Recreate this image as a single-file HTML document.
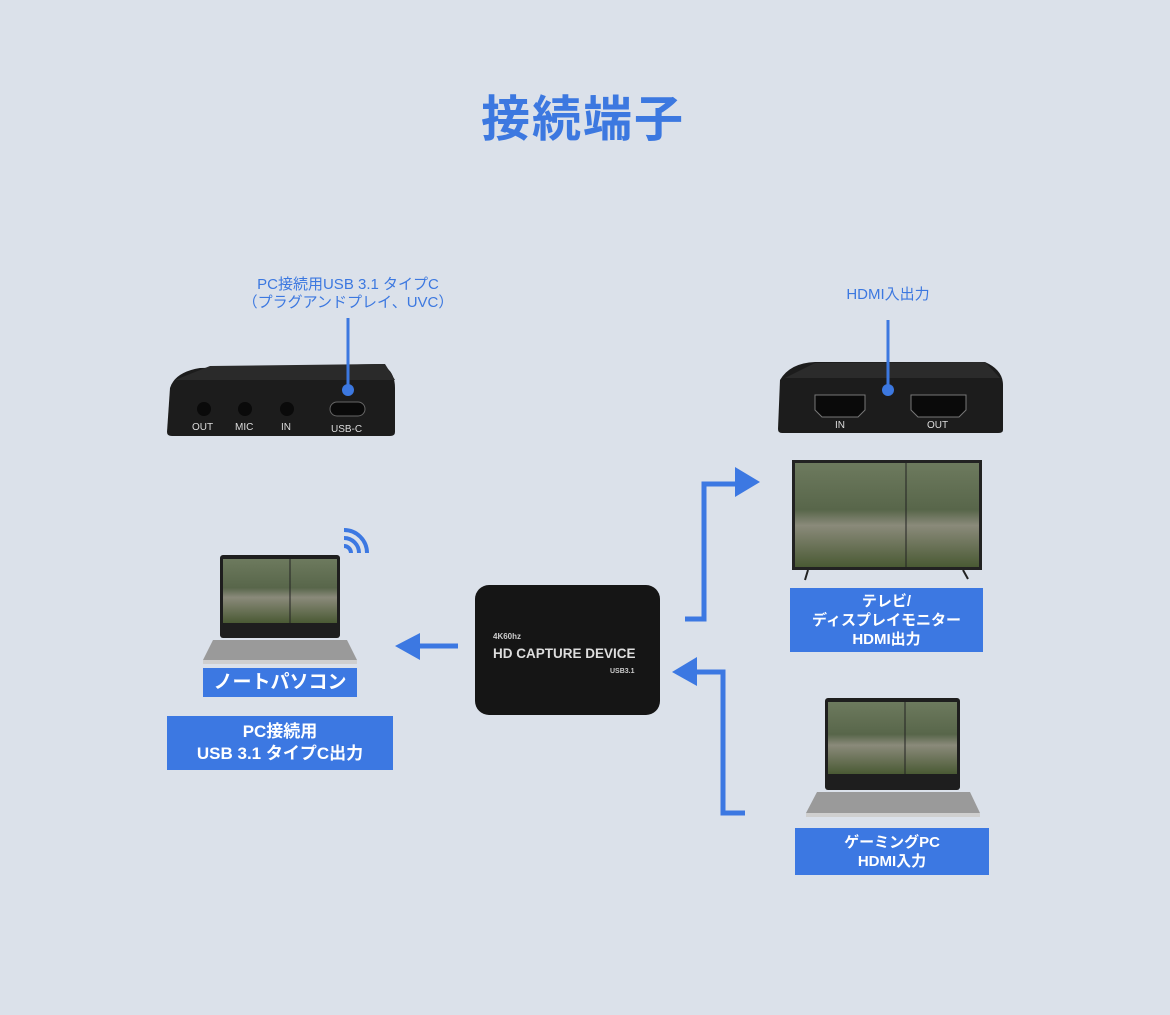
<!DOCTYPE html>
<html><head><meta charset="utf-8"><style>
body{margin:0;width:1170px;height:1015px;background:#dbe1ea;position:relative;overflow:hidden;font-family:"Liberation Sans","Noto Sans CJK JP",sans-serif}
.t{position:absolute;text-align:center;font-weight:bold}
.box{position:absolute;background:#3c78e2;color:#fff;font-weight:bold;text-align:center;display:flex;align-items:center;justify-content:center;font-size:16px;line-height:20px}
.scr{fill:url(#g)}
</style></head><body>
<div class="t" style="left:0;width:1170px;top:80px;font-size:49px;color:#3c78e0;letter-spacing:2px;left:-2px">接続端子</div>
<div class="t" style="left:200px;width:296px;top:276px;font-size:15px;line-height:18px;color:#3c78e0;font-weight:normal">PC接続用USB 3.1 タイプC<br>（プラグアンドプレイ、UVC）</div>
<div class="t" style="left:800px;width:176px;top:283px;font-size:15px;color:#3c78e0;font-weight:normal">HDMI入出力</div>
<svg width="1170" height="1015" style="position:absolute;left:0;top:0">
<defs>
<linearGradient id="g" x1="0" y1="0" x2="0" y2="1"><stop offset="0" stop-color="#6d7a5e"/><stop offset="0.45" stop-color="#58664a"/><stop offset="0.6" stop-color="#8a8a7a"/><stop offset="1" stop-color="#4a5a34"/></linearGradient>
</defs>
<path d="M170 388 Q175 372 200 368 L380 364 Q395 370 395 388 L395 432 Q395 436 390 436 L172 436 Q167 436 167 432 Z" fill="#1c1c1c"/>
<path d="M175 380 L210 366 L385 364 L395 380 Z" fill="#2a2a2a"/>
<g fill="#0a0a0a"><circle cx="204" cy="409" r="7"/><circle cx="245" cy="409" r="7"/><circle cx="287" cy="409" r="7"/></g>
<rect x="330" y="402" width="35" height="14" rx="7" fill="#0a0a0a" stroke="#666" stroke-width="1"/>
<g fill="#ddd" font-size="10" font-family="Liberation Sans"><text x="192" y="430">OUT</text><text x="235" y="430">MIC</text><text x="281" y="430">IN</text><text x="331" y="432">USB-C</text></g>
<line x1="348" y1="318" x2="348" y2="390" stroke="#3c78e0" stroke-width="3"/><circle cx="348" cy="390" r="6" fill="#3c78e0"/>
<path d="M780 380 Q790 363 815 362 L985 362 Q1003 370 1003 385 L1003 430 Q1003 433 998 433 L782 433 Q778 433 778 429 Z" fill="#1c1c1c"/>
<path d="M785 378 L815 363 L985 362 L1000 378 Z" fill="#2b2b2b"/>
<path d="M815 395 L865 395 L865 410 L858 417 L822 417 L815 410 Z" fill="#0a0a0a" stroke="#777"/>
<path d="M911 395 L966 395 L966 410 L959 417 L918 417 L911 410 Z" fill="#0a0a0a" stroke="#777"/>
<g fill="#ddd" font-size="10" font-family="Liberation Sans"><text x="835" y="428">IN</text><text x="927" y="428">OUT</text></g>
<line x1="888" y1="320" x2="888" y2="388" stroke="#3c78e0" stroke-width="3"/><circle cx="888" cy="390" r="6" fill="#3c78e0"/>
<rect x="792" y="460" width="190" height="110" fill="#222"/>
<rect x="795" y="463" width="184" height="104" class="scr"/>
<line x1="906" y1="463" x2="906" y2="567" stroke="#222"/>
<path d="M808 570 L805 580 M963 570 L968 579" stroke="#222" stroke-width="2"/>
<path d="M685 619 L704 619 L704 484 L738 484" fill="none" stroke="#3c78e2" stroke-width="5"/>
<polygon points="735,467 760,482 735,497" fill="#3c78e2"/>
<path d="M697 672 L723 672 L723 813 L745 813" fill="none" stroke="#3c78e2" stroke-width="5"/>
<polygon points="697,657 672,672 697,686" fill="#3c78e2"/>
<path d="M458 646 L418 646" stroke="#3c78e2" stroke-width="5"/>
<polygon points="420,633 395,646 420,660" fill="#3c78e2"/>
<rect x="475" y="585" width="185" height="130" rx="14" fill="#151515"/>
<text x="493" y="639" fill="#ccc" font-size="8" font-weight="bold" font-family="Liberation Sans">4K60hz</text>
<text x="493" y="658" fill="#ddd" font-size="13.5" font-weight="bold" font-family="Liberation Sans">HD CAPTURE DEVICE</text>
<text x="610" y="673" fill="#ccc" font-size="7" font-weight="bold" font-family="Liberation Sans">USB3.1</text>
<rect x="220" y="555" width="120" height="83" rx="3" fill="#1e1e1e"/>
<rect x="223" y="559" width="114" height="64" class="scr"/>
<line x1="290" y1="559" x2="290" y2="623" stroke="#222"/>
<path d="M213 640 L347 640 L357 660 L203 660 Z" fill="#9a9a9a"/>
<rect x="203" y="660" width="154" height="4" fill="#cfcfcf"/>
<g fill="none" stroke="#3c78e2" stroke-width="4">
<path d="M344 546 A7 7 0 0 1 351 553"/><path d="M344 538 A15 15 0 0 1 359 553"/><path d="M344 530 A23 23 0 0 1 367 553"/></g>
<rect x="825" y="698" width="135" height="92" rx="3" fill="#1e1e1e"/>
<rect x="828" y="702" width="129" height="72" class="scr"/>
<line x1="905" y1="702" x2="905" y2="774" stroke="#222"/>
<path d="M817 792 L970 792 L980 813 L806 813 Z" fill="#9a9a9a"/>
<rect x="806" y="813" width="174" height="4" fill="#cfcfcf"/>
</svg>
<div class="box" style="left:790px;top:588px;width:193px;height:64px;font-size:15px;line-height:19px">テレビ/<br>ディスプレイモニター<br>HDMI出力</div>
<div class="box" style="left:203px;top:668px;width:154px;height:29px;font-size:19px">ノートパソコン</div>
<div class="box" style="left:167px;top:716px;width:226px;height:54px;font-size:17px;line-height:22px">PC接続用<br>USB 3.1 タイプC出力</div>
<div class="box" style="left:795px;top:828px;width:194px;height:47px;font-size:15px;line-height:19px">ゲーミングPC<br>HDMI入力</div>
</body></html>
